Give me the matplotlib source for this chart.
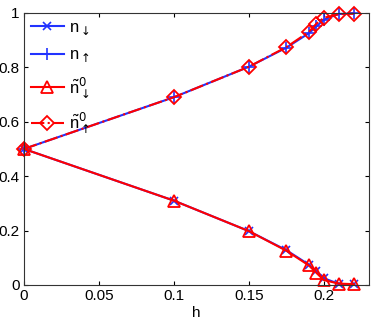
import numpy as np
import matplotlib.pyplot as plt

plt.rcParams['font.family'] = ['Liberation Sans', 'DejaVu Sans']
plt.rcParams['mathtext.fontset'] = 'dejavusans'

h = [0, 0.1, 0.15, 0.175, 0.19, 0.195, 0.2, 0.21, 0.22]
n_down = [0.5, 0.31, 0.198, 0.128, 0.075, 0.05, 0.025, 0.004, 0.002]
n_up = [0.5, 0.69, 0.802, 0.872, 0.925, 0.95, 0.975, 0.996, 0.998]
nt_down = [0.5, 0.31, 0.198, 0.126, 0.072, 0.045, 0.018, 0.005, 0.003]
nt_up = [0.5, 0.69, 0.802, 0.874, 0.93, 0.96, 0.982, 0.995, 0.997]

fig = plt.figure(figsize=(3.74, 3.22), dpi=100)
ax = fig.add_axes([0.064, 0.115, 0.922, 0.845])

ax.plot(h, n_down, color='#2233ff', marker='x', ms=6, mew=1.2, lw=1.5, clip_on=False,
        label=r'$\mathregular{n}_{\downarrow}$')
ax.plot(h, n_up, color='#2233ff', marker='+', ms=8, mew=1.2, lw=1.5, clip_on=False,
        label=r'$\mathregular{n}_{\uparrow}$')
ax.plot(h, nt_down, color='red', marker='^', ms=8, mew=1.3, mfc='none', lw=1.5, clip_on=False,
        label=r'$\tilde{\mathregular{n}}^0_{\downarrow}$')
ax.plot(h, nt_up, color='red', marker='D', ms=7, mew=1.3, mfc='none', lw=1.5, ls='-.', clip_on=False,
        label=r'$\tilde{\mathregular{n}}^0_{\uparrow}$')

ax.set_xlim(0, 0.23)
ax.set_ylim(0, 1)
ax.set_xticks([0, 0.05, 0.1, 0.15, 0.2])
ax.set_xticklabels(['0', '0.05', '0.1', '0.15', '0.2'])
ax.set_yticks([0, 0.2, 0.4, 0.6, 0.8, 1])
ax.set_yticklabels(['0', '0.2', '0.4', '0.6', '0.8', '1'])
ax.tick_params(direction='in', top=True, right=True, labelsize=11, length=3, pad=3)
for s in ax.spines.values():
    s.set_color('#333333')
ax.set_xlabel('h', fontsize=11, labelpad=2)

ax.legend(loc='upper left', frameon=False, fontsize=12, handlelength=2.0,
          borderaxespad=0.1, labelspacing=0.65, handletextpad=0.3, borderpad=0.3)

fig.savefig('out.png', dpi=100)
